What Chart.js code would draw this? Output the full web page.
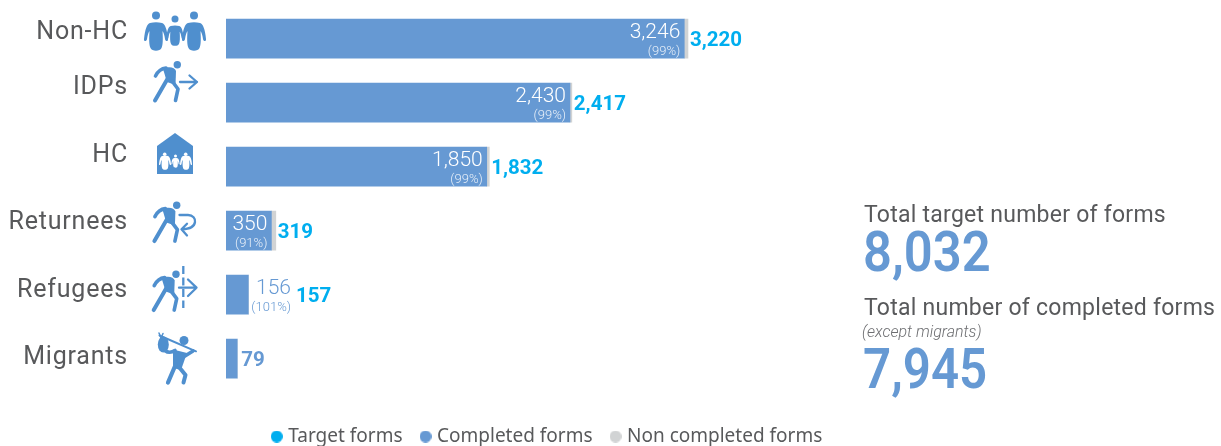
<!DOCTYPE html>
<html>
<head>
<meta charset="utf-8">
<title>Forms by population group</title>
<script src="https://cdn.jsdelivr.net/npm/chart.js@4/dist/chart.umd.min.js"></script>
<style>
  html, body { margin: 0; padding: 0; background: #fff; }
  #wrap { position: relative; width: 1221px; height: 446px; overflow: hidden; font-family: Roboto, sans-serif; }
  canvas { position: absolute; left: 0; top: 0; }
  svg.icons { position: absolute; left: 0; top: 0; }
  .t { position: absolute; white-space: nowrap; line-height: 1; }
  .head { color: #58595b; font-size: 23px; letter-spacing: .25px; left: 864px; }
  .big { color: #6699d3; font-size: 56px; font-weight: 600; left: 863px; transform-origin: left center; }
  .note { color: #6d6e71; font-size: 16px; font-style: italic; font-weight: 300; left: 862px; }
</style>
</head>
<body>
<div id="wrap">
  <canvas id="chart" width="1221" height="446"></canvas>

  <svg class="icons" width="1221" height="446" viewBox="0 0 1221 446">
    <defs>
      <g id="walker" fill="none" stroke="#4f8fce" stroke-linecap="round" stroke-linejoin="round">
        <circle cx="177.300" cy="64.700" r="3.700" fill="#4f8fce" stroke="none"/>
        <path d="M155.500 76 C158 71 161 68.500 166 68" stroke-width="3.600"/>
        <path d="M163 69 C168 66 175 67 176 71 L175.500 85 L167 82 Z" fill="#4f8fce" stroke="none"/>
        <path d="M168 78 L155 100.500" stroke-width="4"/>
        <path d="M172 81 L178 89 L175.500 100.500" stroke-width="3.600"/>
      </g>
      <path id="person" d="M-6 -14 C-2 -15 2 -15 6 -14 C9 -13 11 -8 12 2 C12.500 4.500 9.500 5 9 2 C8.500 -1 8 -4 6.500 -6 C7 2 7 8 5.500 11 C4 14.500 -4 14.500 -5.500 11 C-7 8 -7 2 -6.500 -6 C-8 -4 -8.500 -1 -9 2 C-9.500 5 -12.500 4.500 -12 2 C-11 -8 -9 -13 -6 -14 Z"/>
    </defs>

    <!-- Non-HC: three figures side by side -->
    <g fill="#4f8fce">
      <circle cx="156" cy="15.500" r="4"/>
      <circle cx="175" cy="19" r="3.500"/>
      <circle cx="194" cy="15.500" r="4"/>
      <use href="#person" transform="translate(156,37)"/>
      <use href="#person" transform="translate(194,37)"/>
      <use href="#person" transform="translate(175,36) scale(.72)"/>
    </g>

    <!-- IDPs -->
    <use href="#walker"/>
    <path d="M180 82 H197 M189.500 75.500 L197 82 L189.500 88.500" fill="none" stroke="#4f8fce" stroke-width="2.300" stroke-linecap="round" stroke-linejoin="round"/>

    <!-- HC: house with a family inside -->
    <path d="M175 133 L193 146 V174 H157 V146 Z" fill="#4f8fce"/>
    <g fill="#fff">
      <circle cx="164.700" cy="154.300" r="1.800"/>
      <circle cx="175.500" cy="156" r="1.500"/>
      <circle cx="185.700" cy="154.300" r="1.800"/>
      <use href="#person" transform="translate(165,163) scale(.5)"/>
      <use href="#person" transform="translate(186,163) scale(.5)"/>
      <use href="#person" transform="translate(175.500,163) scale(.34)"/>
    </g>

    <!-- Returnees -->
    <use href="#walker" transform="translate(-.6,140.600)"/>
    <path d="M179.500 215 H188 C193 215 195.500 218.500 195 222 C194.500 226.500 190 229 182 229.300 M187 223.800 L181.500 229.300 L187 235.500" fill="none" stroke="#4f8fce" stroke-width="2.300" stroke-linecap="round" stroke-linejoin="round"/>

    <!-- Refugees -->
    <use href="#walker" transform="translate(-1.300,209.600)"/>
    <path d="M183.300 266 V308" fill="none" stroke="#4f8fce" stroke-width="2.300" stroke-dasharray="8 3.500"/>
    <path d="M179 287.700 H196.500 M188 279.500 L196.500 287.700 L188 296" fill="none" stroke="#4f8fce" stroke-width="2.300" stroke-linecap="round" stroke-linejoin="round"/>

    <!-- Migrants: walker carrying a bundle on a stick -->
    <g fill="none" stroke="#4f8fce" stroke-linecap="round" stroke-linejoin="round">
      <path d="M159.500 335.500 L196 351.300" stroke-width="2"/>
      <ellipse cx="163.300" cy="344.500" rx="5.500" ry="8" fill="#4f8fce" stroke="none"/>
      <path d="M159 333 L161 338 M163 333.500 L161 338" stroke-width="1.500"/>
      <circle cx="184" cy="340.500" r="4.500" fill="#4f8fce" stroke="none"/>
      <path d="M165 350.500 C168 353 171 353 175 350.500" stroke-width="3.600"/>
      <path d="M173 349.500 L187 353 L181 370 L173 368 Z" fill="#4f8fce" stroke="none"/>
      <path d="M185 356 L193 351" stroke-width="3.600"/>
      <path d="M175.500 365 L168 382.500" stroke-width="4.200"/>
      <path d="M179 367 L185.500 375 L183.500 382.500" stroke-width="4"/>
    </g>
  </svg>

  <div class="t head" style="top:203px">Total target number of forms</div>
  <div class="t big" id="totalTarget" style="top:224px; transform:scaleX(.905)"></div>
  <div class="t head" style="top:296px">Total number of completed forms</div>
  <div class="t note" style="top:324px">(except migrants)</div>
  <div class="t big" id="totalCompleted" style="top:341px; transform:scaleX(.88)"></div>
</div>

<script>
// Forms per population group
const categories   = ['Non-HC', 'IDPs', 'HC', 'Returnees', 'Refugees', 'Migrants'];
const targetForms  = [3246, 2430, 1850, 350, 156, null];
const completed    = [3220, 2417, 1832, 319, 157, 79];
const notCompleted = [26, 13, 18, 31, 0, 0];
const percentDone  = ['(99%)', '(99%)', '(99%)', '(91%)', '(101%)', null];
const legendNames  = ['Target forms', 'Completed forms', 'Non completed forms'];
const totalTarget    = 8032;
const totalCompleted = 7945;

// Category captions sit a little above the centre of their bars
const captionLift = [6, 15, 11, 8, 4, 1];

const BLUE = '#6699d3', CYAN = '#00aeef', GREY = '#d1d3d4', INK = '#58595b';
const fmt = n => n.toLocaleString('en-US');

document.getElementById('totalTarget').textContent = fmt(totalTarget);
document.getElementById('totalCompleted').textContent = fmt(totalCompleted);

// Round legend marker rendered once and reused as a point style
function dot(color) {
  const c = document.createElement('canvas');
  c.width = c.height = 12;
  const g = c.getContext('2d');
  g.fillStyle = color;
  g.beginPath();
  g.arc(6, 6, 6, 0, Math.PI * 2);
  g.fill();
  return c;
}
const legendDots = [dot(CYAN), dot(BLUE), dot(GREY)];

const annotations = {
  id: 'annotations',
  afterDatasetsDraw(chart) {
    const { ctx, scales: { x, y } } = chart;
    ctx.save();
    ctx.textBaseline = 'middle';
    categories.forEach((name, i) => {
      const cy = y.getPixelForValue(i);
      const doneEnd = x.getPixelForValue(completed[i]);
      const barEnd = x.getPixelForValue(completed[i] + notCompleted[i]);

      // group caption
      ctx.font = '400 25px Roboto';
      ctx.letterSpacing = '0.8px';
      ctx.fillStyle = INK;
      ctx.textAlign = 'right';
      ctx.fillText(name, 128, cy - captionLift[i]);
      ctx.letterSpacing = '0px';

      let next = barEnd + 2;
      if (targetForms[i] !== null) {
        const label = fmt(targetForms[i]);
        ctx.font = '300 21px Roboto';
        const w1 = ctx.measureText(label).width;
        ctx.font = '300 13px Roboto';
        const w2 = ctx.measureText(percentDone[i]).width;
        const inside = Math.max(w1, w2) + 6 <= doneEnd - x.getPixelForValue(0);

        // the stacked figures go inside the bar when they fit, beside it otherwise
        const right = inside ? doneEnd - 4 : barEnd + 3 + Math.max(w1, w2);
        ctx.textAlign = 'right';
        ctx.fillStyle = inside ? '#ffffff' : BLUE;
        ctx.font = '300 21px Roboto';
        ctx.fillText(label, right, cy - 5.5);
        ctx.globalAlpha = inside ? 0.85 : 1;
        ctx.font = '300 13px Roboto';
        ctx.fillText(percentDone[i], right, cy + 13);
        ctx.globalAlpha = 1;
        if (!inside) next = right + 5;
      } else {
        next = barEnd + 4;
      }

      // completed count
      ctx.textAlign = 'left';
      ctx.font = '700 20.5px Roboto';
      ctx.fillStyle = targetForms[i] !== null ? CYAN : BLUE;
      ctx.fillText(fmt(completed[i]), next, cy + 2.5);
    });
    ctx.restore();
  }
};

new Chart(document.getElementById('chart'), {
  type: 'bar',
  data: {
    labels: categories,
    datasets: [
      { label: 'Completed forms', data: completed, backgroundColor: BLUE, barThickness: 39, stack: 'forms' },
      { label: 'Non completed forms', data: notCompleted, backgroundColor: GREY, barThickness: 39, stack: 'forms' }
    ]
  },
  options: {
    indexAxis: 'y',
    responsive: false,
    animation: false,
    layout: { padding: { left: 226, right: 350, top: 6.6, bottom: -10 } },
    scales: {
      x: {
        stacked: true, min: 0, max: 4532,
        grid: { display: false }, border: { display: false }, ticks: { display: false },
        afterFit(scale) { scale.height = 15.4; }
      },
      y: { stacked: true, display: false }
    },
    plugins: {
      tooltip: { enabled: false },
      legend: {
        position: 'bottom',
        labels: {
          usePointStyle: true,
          boxHeight: 12,
          pointStyleWidth: 4,
          padding: 21,
          color: INK,
          font: { family: '"Noto Sans"', size: 19 },
          generateLabels: () => legendNames.map((text, i) => ({
            text,
            fontColor: INK,
            fillStyle: [CYAN, BLUE, GREY][i],
            strokeStyle: 'transparent',
            lineWidth: 0,
            pointStyle: legendDots[i],
            hidden: false,
            datasetIndex: i
          }))
        }
      }
    }
  },
  plugins: [annotations]
});
</script>
</body>
</html>
